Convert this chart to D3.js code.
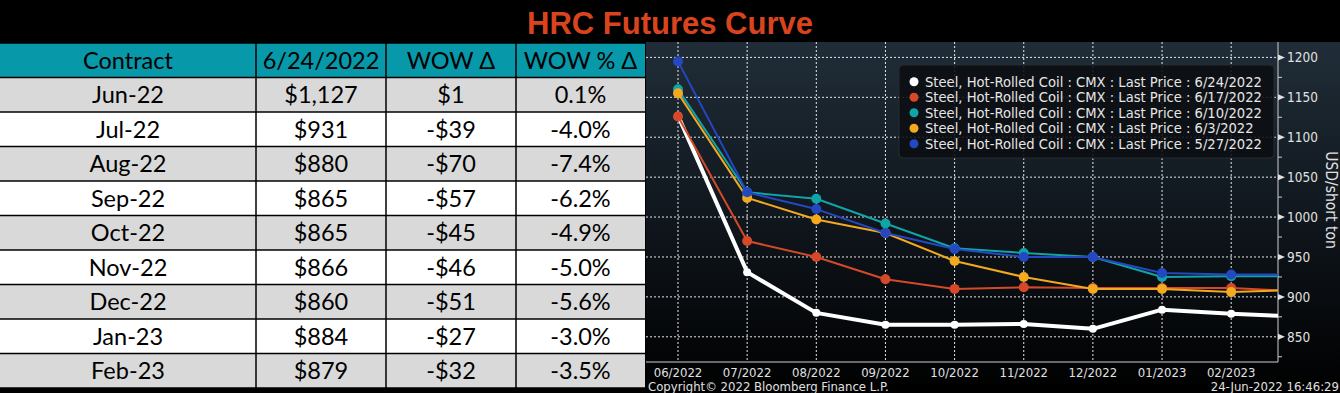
<!DOCTYPE html>
<html>
<head>
<meta charset="utf-8">
<script src="https://cdn.jsdelivr.net/npm/d3@7"></script>
<style>
  html, body { margin: 0; padding: 0; background: #000; }
  svg { display: block; }
</style>
</head>
<body>
<svg id="chart" width="1340" height="393"></svg>
<script>
// ---------- DATA ----------
const title = "HRC Futures Curve";
const tableHeaders = ["Contract", "6/24/2022", "WOW Δ", "WOW % Δ"];
const contracts = ["Jun-22", "Jul-22", "Aug-22", "Sep-22", "Oct-22", "Nov-22", "Dec-22", "Jan-23", "Feb-23"];
const lastPrices = ["$1,127", "$931", "$880", "$865", "$865", "$866", "$860", "$884", "$879"];
const wowDelta = ["$1", "-$39", "-$70", "-$57", "-$45", "-$46", "-$51", "-$27", "-$32"];
const wowPct = ["0.1%", "-4.0%", "-7.4%", "-6.2%", "-4.9%", "-5.0%", "-5.6%", "-3.0%", "-3.5%"];

const monthLabels = ["06/2022", "07/2022", "08/2022", "09/2022", "10/2022", "11/2022", "12/2022", "01/2023", "02/2023", "03/2023"];
const yTicks = [850, 900, 950, 1000, 1050, 1100, 1150, 1200];
const yMinorTicks = [825, 875, 925, 975, 1025, 1075, 1125, 1175];

const price0624 = [1127, 931, 880, 865, 865, 866, 860, 884, 879, 875];
const price0617 = [1126, 970, 950, 922, 910, 912, 911, 911, 911, 907];
const price0610 = [1160, 1031, 1023, 992, 961, 955, 950, 925, 926, 926];
const price0603 = [1155, 1024, 997, 980, 945, 925, 910, 910, 906, 909];
const price0527 = [1195, 1031, 1010, 980, 960, 950, 950, 930, 928, 928];

const seriesNames = [
  "Steel, Hot-Rolled Coil : CMX : Last Price : 6/24/2022",
  "Steel, Hot-Rolled Coil : CMX : Last Price : 6/17/2022",
  "Steel, Hot-Rolled Coil : CMX : Last Price : 6/10/2022",
  "Steel, Hot-Rolled Coil : CMX : Last Price : 6/3/2022",
  "Steel, Hot-Rolled Coil : CMX : Last Price : 5/27/2022"
];
const yAxisTitle = "USD/short ton";
const copyright = "Copyright© 2022 Bloomberg Finance L.P.";
const stamp = "24-Jun-2022 16:46:29";

// ---------- SETUP ----------
const svg = d3.select("#chart");
const W = 1340, H = 393;
svg.append("rect").attr("width", W).attr("height", H).attr("fill", "#000");

// Title
svg.append("text")
  .attr("x", 670).attr("y", 34)
  .attr("text-anchor", "middle")
  .attr("font-family", "Liberation Sans, Arial, sans-serif")
  .attr("font-weight", "bold")
  .attr("font-size", 31)
  .attr("fill", "#d9441f")
  .text(title);

// ---------- TABLE ----------
const colEdges = [0, 256, 386, 516, 645];
const tableTop = 43, headH = 34.5, rowH = 34.5;
const tg = svg.append("g");
tg.append("rect").attr("x", 0).attr("y", tableTop).attr("width", 645).attr("height", headH).attr("fill", "#0798aa");
const rows = contracts.map((c, i) => [c, lastPrices[i], wowDelta[i], wowPct[i]]);
rows.forEach((r, i) => {
  tg.append("rect")
    .attr("x", 0).attr("y", tableTop + headH + i * rowH)
    .attr("width", 645).attr("height", rowH)
    .attr("fill", i % 2 === 0 ? "#d9d9d9" : "#ffffff");
});
const tFont = "Lato, Carlito, Calibri, sans-serif";
const tSize = 23.5;
tableHeaders.forEach((h, j) => {
  tg.append("text")
    .attr("x", (colEdges[j] + colEdges[j + 1]) / 2)
    .attr("y", tableTop + headH / 2 + 8.5)
    .attr("text-anchor", "middle")
    .attr("font-family", tFont).attr("font-size", tSize)
    .attr("fill", "#000").text(h);
});
rows.forEach((r, i) => {
  r.forEach((v, j) => {
    tg.append("text")
      .attr("x", (colEdges[j] + colEdges[j + 1]) / 2)
      .attr("y", tableTop + headH + i * rowH + rowH / 2 + 8.5)
      .attr("text-anchor", "middle")
      .attr("font-family", tFont).attr("font-size", tSize)
      .attr("fill", "#000").text(v);
  });
});
// borders
for (let i = 0; i <= rows.length + 1; i++) {
  const y = i === 0 ? tableTop : tableTop + headH + (i - 1) * rowH;
  tg.append("line").attr("x1", 0).attr("x2", 645).attr("y1", y).attr("y2", y)
    .attr("stroke", "#000").attr("stroke-width", 1.5);
}
colEdges.slice(1, 4).forEach(x => {
  tg.append("line").attr("x1", x).attr("x2", x)
    .attr("y1", tableTop).attr("y2", tableTop + headH + rows.length * rowH)
    .attr("stroke", "#000").attr("stroke-width", 1.5);
});

// ---------- CHART ----------
const cx0 = 646, cy0 = 42;
const defs = svg.append("defs");
const grad = defs.append("linearGradient").attr("id", "bg").attr("x1", 0).attr("x2", 0).attr("y1", 0).attr("y2", 1);
grad.append("stop").attr("offset", "0%").attr("stop-color", "#202d38");
grad.append("stop").attr("offset", "55%").attr("stop-color", "#0e141a");
grad.append("stop").attr("offset", "100%").attr("stop-color", "#000000");
svg.append("rect").attr("x", cx0).attr("y", cy0).attr("width", W - cx0).attr("height", H - cy0).attr("fill", "url(#bg)");

const plotRight = 1278, plotBottom = 362;
defs.append("clipPath").attr("id", "plotclip")
  .append("rect").attr("x", cx0).attr("y", cy0).attr("width", plotRight - cx0).attr("height", plotBottom - cy0);

const x = d3.scaleLinear().domain([0, 8]).range([678, 1231.2]);
const y = d3.scaleLinear().domain([850, 1200]).range([336.8, 57.4]);

// grid
const grid = svg.append("g");
monthLabels.forEach((m, i) => {
  if (x(i) > plotRight) return;
  grid.append("line").attr("x1", x(i)).attr("x2", x(i)).attr("y1", cy0).attr("y2", plotBottom)
    .attr("stroke", "#e8e8e8").attr("stroke-width", 1).attr("stroke-dasharray", "2,2");
});
yTicks.forEach(t => {
  grid.append("line").attr("x1", cx0).attr("x2", plotRight).attr("y1", y(t)).attr("y2", y(t))
    .attr("stroke", "#e8e8e8").attr("stroke-width", 1).attr("stroke-dasharray", "2,2");
});

// axes lines
svg.append("line").attr("x1", plotRight).attr("x2", plotRight).attr("y1", cy0).attr("y2", plotBottom)
  .attr("stroke", "#cfcfcf").attr("stroke-width", 1);
svg.append("line").attr("x1", cx0).attr("x2", plotRight).attr("y1", plotBottom).attr("y2", plotBottom)
  .attr("stroke", "#cfcfcf").attr("stroke-width", 1);

// y ticks (right)
const axisFont = "DejaVu Sans Condensed, DejaVu Sans, sans-serif";
yTicks.forEach(t => {
  svg.append("path")
    .attr("d", `M${plotRight},${y(t) - 3} L${plotRight + 7},${y(t)} L${plotRight},${y(t) + 3} Z`)
    .attr("fill", "#e0e0e0");
  svg.append("text").attr("x", plotRight + 9).attr("y", y(t) + 5)
    .attr("font-family", axisFont).attr("font-size", 13.5)
    .attr("fill", "#e0e0e0").text(t);
});
yMinorTicks.forEach(t => {
  if (y(t) > plotBottom || y(t) < cy0) return;
  svg.append("line").attr("x1", plotRight).attr("x2", plotRight + 4).attr("y1", y(t)).attr("y2", y(t))
    .attr("stroke", "#cfcfcf").attr("stroke-width", 1);
});

// y-axis title
svg.append("text")
  .attr("transform", `translate(1326,200) rotate(90)`)
  .attr("text-anchor", "middle")
  .attr("font-family", axisFont).attr("font-size", 15.5)
  .attr("fill", "#e0e0e0").text(yAxisTitle);

// x labels
monthLabels.forEach((m, i) => {
  if (x(i) > plotRight) return;
  svg.append("text").attr("x", x(i)).attr("y", 377)
    .attr("text-anchor", "middle")
    .attr("font-family", axisFont).attr("font-size", 13)
    .attr("fill", "#e0e0e0").text(m);
});

// series
const series = [
  { values: price0624, color: "#ffffff", width: 4, r: 4 },
  { values: price0617, color: "#d5492a", width: 2, r: 5 },
  { values: price0610, color: "#10a4a9", width: 2, r: 5 },
  { values: price0603, color: "#f3aa1f", width: 2, r: 5 },
  { values: price0527, color: "#2447c2", width: 2, r: 5 }
];
const line = d3.line().x((d, i) => x(i)).y(d => y(d));
const sg = svg.append("g").attr("clip-path", "url(#plotclip)");
series.forEach(s => {
  sg.append("path").datum(s.values).attr("d", line)
    .attr("fill", "none").attr("stroke", s.color).attr("stroke-width", s.width)
    .attr("stroke-linejoin", "round");
  sg.selectAll(null).data(s.values.slice(0, 9)).enter().append("circle")
    .attr("cx", (d, i) => x(i)).attr("cy", d => y(d)).attr("r", s.r)
    .attr("fill", s.color);
});

// legend
const lg = svg.append("g");
lg.append("rect").attr("x", 899).attr("y", 65).attr("width", 375).attr("height", 93).attr("rx", 4)
  .attr("fill", "#0b0e11").attr("fill-opacity", 0.88).attr("stroke", "#262d33").attr("stroke-width", 1);
seriesNames.forEach((n, i) => {
  const yy = 81.7 + i * 15.5;
  lg.append("circle").attr("cx", 914).attr("cy", yy).attr("r", 4.5).attr("fill", series[i].color);
  lg.append("text").attr("x", 925).attr("y", yy + 5)
    .attr("font-family", axisFont).attr("font-size", 14.6)
    .attr("fill", "#e6e6e6").text(n);
});

// footer
svg.append("text").attr("x", 648).attr("y", 391)
  .attr("font-family", axisFont).attr("font-size", 13)
  .attr("fill", "#e0e0e0").text(copyright);
svg.append("text").attr("x", 1339).attr("y", 391).attr("text-anchor", "end")
  .attr("font-family", axisFont).attr("font-size", 13)
  .attr("fill", "#e0e0e0").text(stamp);
</script>
</body>
</html>
